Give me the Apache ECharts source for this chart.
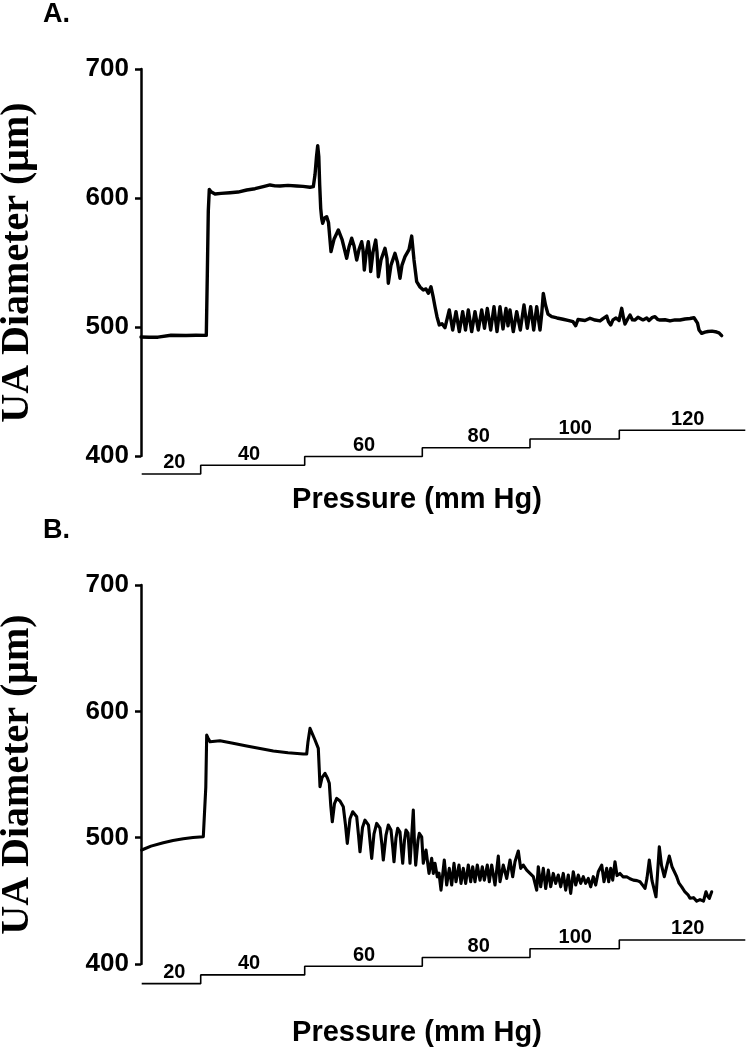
<!DOCTYPE html>
<html>
<head>
<meta charset="utf-8">
<script src="https://cdn.jsdelivr.net/npm/echarts/dist/echarts.min.js"></script>
<style>
html,body{margin:0;padding:0;background:#fff;}
#chart{width:746px;height:1050px;}
</style>
</head>
<body>
<div id="chart"></div>
<script>
// ---- Data (time in arbitrary recording units, diameter in µm, pressure in mm Hg) ----
var yTicks = [400, 500, 600, 700];
var pressureLevels = [20, 40, 60, 80, 100, 120, 120];
var pressureStepStart = [0.7, 59.7, 163.7, 281.3, 389, 478.3, 604.3];
var pressureLabelX = [33.3, 108, 223, 337.7, 434.3, 546.7];

var traceA = [
[0,492.2],[8,492.0],[17,492.1],[19,493.3],[30,493.6],[45,493.4],[55,493.6],[65.3,493.5],
[66.3,540],[67.3,590],[68.3,606.7],[70,604.8],[74,603.1],[80,603.6],[89,604.1],[97,604.6],[105.7,606.2],[114,607.2],[122.3,608.8],[129,610.1],[134,609.4],[139,609.3],[147,609.8],[155.7,609.3],[162,609.0],[169,608.3],[172.3,608.8],
[174,618],[175.5,632],[176.7,640.5],[177.8,632],[178.7,610],[179.7,592],[180.7,584],[181.7,580.4],[183.5,584.5],[185.7,585.5],[187.5,581],[190,558.4],
[193,568],[197.3,575.2],[201,568],[205.7,553.3],[208,562],[210.7,568.8],[213,563],[215.7,551.9],[218,560],[220.7,566.1],[222,560],[223.3,544.2],[225,556],[227.3,566.1],[228.5,558],[229.7,542.9],[232,558],[234.7,567.4],[236,558],[237.3,539],[240,552],[244,561],[246,553],[247.3,533.9],[250,548],[254,557.1],[256.5,550],[259,537.8],[261,548],[264,554.5],[268,560],[270.7,570.5],[273,552],[275.7,535.1],[279,531],[282.3,528.7],[285,529.5],[287.3,526.1],[290,531.2],[292,524],[294,515.7],[296,508],[298.3,501.6],[301,502.5],[304,499.5],
[308.3,513.2],[311.7,497.7],[315,511.9],[318.3,496.4],[321.7,511.9],[324.5,497.7],[327.3,513.2],[330.7,496.4],[334,511.9],[337.3,497.7],[340.7,513.2],[343.5,499],[346.3,514.4],[349.7,497.7],[353,515.8],[356,496.4],[359,515.8],[362,498.5],[365,514.4],[367,501],[369,513.2],[372.3,496.4],[375.7,511.9],[379.3,497.7],[383,517.1],[386.3,499],[389.7,515.8],[392.7,497.7],[395.7,515.8],[399,497.7],
[400.7,510],[402.3,526.1],[404.5,517],[407,510],[410.7,508],[416,507],[422,506],[428,505],[432,504.1],[434.7,501],[437,505.8],[439,507],[444,505],[449,506.8],[454,505.4],[459,504.7],[462,506.5],[465.7,508.5],[467.5,504],[469.7,501.6],[472,505.5],[475,507],[478,505],[480.7,514.5],[482.5,507],[484,502.3],[486.5,506],[489,509.3],[491.5,505.5],[494,505.4],[497,507.5],[499,507.8],[502,505.5],[505.7,507],[508,505],[509,505.4],[511.5,507.5],[514,508],[516.5,506],[519,505.4],[524,505.6],[529,504.7],[534,505.5],[539,505.4],[544,506.2],[549,506.6],[553,507.2],[555,507.5],[556.5,503],[558,497.7],[560.7,495.1],[564,496],[567,496.5],[571,496.8],[575.7,496.1],[578,495.5],[580.7,493.3]
];

var traceB = [
[0.7,490.2],[10,493.3],[22.3,496],[32,497.8],[42.3,499.1],[52,500.1],[62.3,500.7],[64,501.3],
[64.8,540],[65.7,581.2],[67,579],[69,575.9],[79,576.7],[92,574.8],[105.7,572.5],[119,570.5],[132.3,568.6],[147,567.2],[162.3,566.2],[165.7,566.2],
[167,576],[169,586.5],[171,586],[174,577.3],[177.3,570.7],[178.2,555],[179,540.3],[181,547.5],[184,550.9],[186.5,547],[188.3,543],[189.8,525],[191.3,512.6],[193.5,527],[195.7,531.1],[199,529],[202.3,524.5],[204.5,510],[206.3,495.5],[209,515],[211.7,520.5],[215.7,516.5],[217.5,502],[219,488.8],[221.5,508],[224,513.9],[227.5,510],[229.3,495],[230.7,483.6],[233,503],[235.7,511.3],[239,507.6],[241,494],[242.3,482.3],[245,502],[247.3,510],[250,506],[251.8,492],[253,480.9],[255,500],[256.7,507.4],[259,504.4],[260.5,490],[261.7,479.7],[263.5,498],[265,506],[267,503.6],[268.2,490],[269,479.7],[271,505],[272.3,521.9],[273.5,495],[274.7,478.3],[277,498],[278.3,503.4],[280.7,500.7],[282.3,479.7],[285,490.2],[288,471.7],[290.7,483.6],[292.3,471.7],
[294,479.7],[296.3,469],[298,472],[300,458.5],[303.3,482.3],[305.7,462.5],[308.3,475.7],[310.7,462.5],[313,479.7],[315,465.1],[318,478.3],[320,463.8],[322.3,475.7],[324.7,463.8],[327.3,478.3],[329.7,465.1],[331.7,477],[334,465.1],[336.3,478.3],[339,466.4],[341.3,477],[343.3,466.4],[346.3,478.3],[348.3,465.1],[350.7,478.3],[354,462.5],[357.3,485.4],[359,465.1],[362.3,478.3],[365.7,467.7],[369,482.3],[371.7,469.1],[374,480.9],[377.3,489.4],[379.7,475.7],[382.3,478.3],[385.7,474.3],[389,471.7],[392.3,469.1],[395.7,458.5],
[397.3,477],[399.7,461.1],[402.3,475.7],[404.7,459.8],[407.3,474.3],[409.7,461.1],[412.3,471.7],[414.7,463.8],[417.3,470.4],[419.7,461.1],[422.3,471.7],[424.7,458.5],[427.3,470.4],[429.7,455.9],[432.3,473],[434.7,462.5],[437.3,470.4],[439.7,463.8],[442.3,469.1],[444.7,463.8],[447.3,467.7],[449.7,461.1],[452.3,469.1],[454.7,462.5],[457.3,473],
[460.7,478.3],[463,465.1],[465.7,475.7],[467.7,465.1],[469.7,475.7],[471.7,466.4],[474,480.9],[476,470],[479,471.7],[482,469],[485.7,469.1],[489,467.5],[492.3,466.4],[496,466],[499,465.1],[502,462],[504,459.8],[506,468],[508.3,482.3],[511,466],[515,453.2],[518.3,492.8],[520.5,478],[523.3,469.1],[526,478],[528.3,485.4],[531,477],[535.7,469.1],[538,464],[540.7,461.1],[544,457],[547.3,454.5],[549,452],[550.7,450.6],[552.5,452.5],[554,451.9],[555.7,449.8],[557.3,449.3],[559,451],[560.7,450.6],[562.5,449.7],[564,449.3],[565,457.2],[566.5,454],[568.3,451.9],[570.7,457.2]
];

// ---- Build options ----
var SANS = '"Liberation Sans", Arial, sans-serif';
var SERIF = '"Liberation Serif", "Times New Roman", serif';

var stepData = pressureStepStart.map(function (x, i) { return [x, pressureLevels[i]]; });
var labelData = pressureLabelX.map(function (x, i) { return [x, pressureLevels[i]]; });

function diamAxis(gridIndex) {
  return {
    gridIndex: gridIndex, type: 'value', min: yTicks[0], max: yTicks[yTicks.length - 1], interval: 100,
    axisLine: { show: true, lineStyle: { color: '#000', width: 2.5 } },
    axisTick: { show: true, inside: false, length: 6, lineStyle: { color: '#000', width: 2.5 } },
    axisLabel: { color: '#000', fontFamily: SANS, fontWeight: 'bold', fontSize: 26, margin: 12 },
    splitLine: { show: false },
    name: 'UA Diameter (\u03bcm)', nameLocation: 'middle', nameRotate: 90, nameGap: 103,
    nameTextStyle: { color: '#000', fontFamily: SERIF, fontWeight: 'bold', fontSize: 40 }
  };
}
function pressAxis(gridIndex) {
  return { gridIndex: gridIndex, type: 'value', min: 0, max: 200, show: false, splitLine: { show: false } };
}
function timeAxis(gridIndex) {
  return { gridIndex: gridIndex, type: 'value', min: 0, max: 605, show: false, splitLine: { show: false } };
}
function traceSeries(data, idx, width) {
  return { type: 'line', xAxisIndex: idx, yAxisIndex: idx, data: data, showSymbol: false, symbol: 'none',
    lineStyle: { color: '#000', width: width, join: 'round', cap: 'round' }, silent: true, animation: false };
}
function stepSeries(idx) {
  return { type: 'line', step: 'end', xAxisIndex: idx, yAxisIndex: idx, data: stepData, showSymbol: false, symbol: 'none',
    lineStyle: { color: '#000', width: 1.6 }, silent: true, animation: false };
}
function labelSeries(idx) {
  return { type: 'scatter', xAxisIndex: idx, yAxisIndex: idx, data: labelData, symbolSize: 0,
    itemStyle: { color: '#000' }, silent: true, animation: false,
    label: { show: true, position: 'top', distance: 1, color: '#000', opacity: 1, fontFamily: SANS, fontWeight: 'bold', fontSize: 20,
      formatter: function (p) { return String(p.value[1]); } } };
}
function grid(top, height) {
  return { left: 141, top: top, width: 605, height: height, containLabel: false, outerBoundsMode: 'none' };
}

var option = {
  backgroundColor: '#fff',
  animation: false,
  grid: [grid(69, 387), grid(395.3, 87.4), grid(585, 379), grid(905, 87.4)],
  xAxis: [timeAxis(0), timeAxis(1), timeAxis(2), timeAxis(3)],
  yAxis: [diamAxis(0), pressAxis(1), diamAxis(2), pressAxis(3)],
  series: [
    traceSeries(traceA, 0, 3.4),
    stepSeries(1), labelSeries(1),
    traceSeries(traceB, 2, 3.1),
    stepSeries(3), labelSeries(3)
  ],
  graphic: [
    { type: 'text', left: 43, top: 1, style: { text: 'A.', font: 'bold 27px ' + SANS, fill: '#000' } },
    { type: 'text', left: 43, top: 517, style: { text: 'B.', font: 'bold 27px ' + SANS, fill: '#000' } },
    { type: 'text', x: 417, y: 500, style: { text: 'Pressure (mm Hg)', font: 'bold 29px ' + SANS, fill: '#000', align: 'center', verticalAlign: 'middle' } },
    { type: 'text', x: 417, y: 1033, style: { text: 'Pressure (mm Hg)', font: 'bold 29px ' + SANS, fill: '#000', align: 'center', verticalAlign: 'middle' } }
  ]
};

var chart = echarts.init(document.getElementById('chart'), null, { renderer: 'canvas' });
chart.setOption(option);
</script>
</body>
</html>
